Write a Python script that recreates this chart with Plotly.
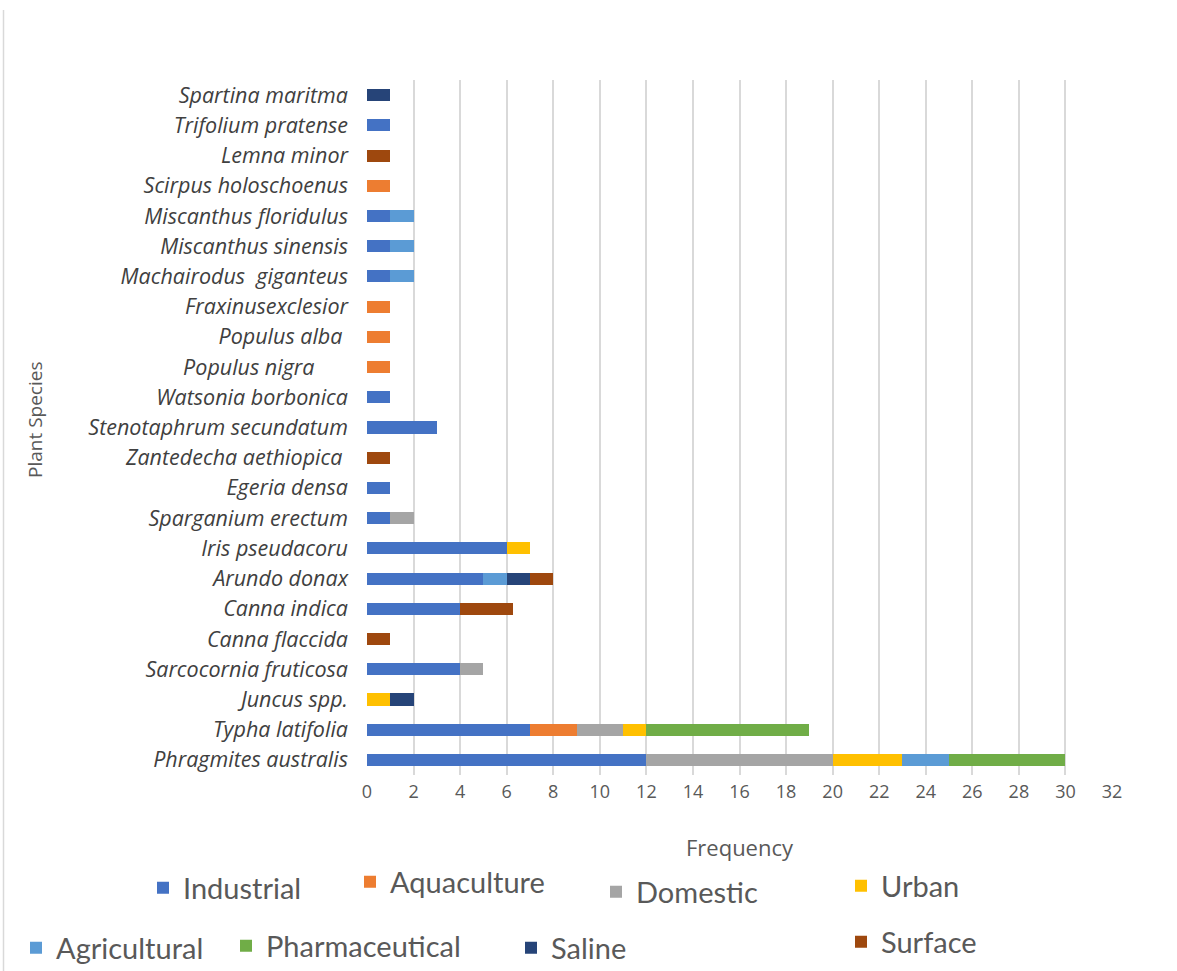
import plotly.graph_objects as go

# Plant species, listed from the bottom row to the top row
species = [
    "Phragmites australis", "Typha latifolia", "Juncus spp.", "Sarcocornia fruticosa",
    "Canna flaccida", "Canna indica", "Arundo donax", "Iris pseudacoru",
    "Sparganium erectum", "Egeria densa", "Zantedecha aethiopica\u00a0", "Stenotaphrum secundatum",
    "Watsonia borbonica", "Populus nigra\u00a0\u00a0\u00a0\u00a0\u00a0\u00a0", "Populus alba\u00a0", "Fraxinusexclesior",
    "Machairodus\u00a0\u00a0giganteus", "Miscanthus sinensis", "Miscanthus floridulus", "Scirpus holoschoenus",
    "Lemna minor", "Trifolium pratense", "Spartina maritma",
]

# Frequency of use per wastewater type (same order as species)
industrial     = [12, 7, 0, 4, 0, 4, 5, 6, 1, 1, 0, 3, 1, 0, 0, 0, 1, 1, 1, 0, 0, 1, 0]
aquaculture    = [0, 2, 0, 0, 0, 0, 0, 0, 0, 0, 0, 0, 0, 1, 1, 1, 0, 0, 0, 1, 0, 0, 0]
domestic       = [8, 2, 0, 1, 0, 0, 0, 0, 1, 0, 0, 0, 0, 0, 0, 0, 0, 0, 0, 0, 0, 0, 0]
urban          = [3, 1, 1, 0, 0, 0, 0, 1, 0, 0, 0, 0, 0, 0, 0, 0, 0, 0, 0, 0, 0, 0, 0]
agricultural   = [2, 0, 0, 0, 0, 0, 1, 0, 0, 0, 0, 0, 0, 0, 0, 0, 1, 1, 1, 0, 0, 0, 0]
pharmaceutical = [5, 7, 0, 0, 0, 0, 0, 0, 0, 0, 0, 0, 0, 0, 0, 0, 0, 0, 0, 0, 0, 0, 0]
saline         = [0, 0, 1, 0, 0, 0, 1, 0, 0, 0, 0, 0, 0, 0, 0, 0, 0, 0, 0, 0, 0, 0, 1]
surface        = [0, 0, 0, 0, 1, 2.25, 1, 0, 0, 0, 1, 0, 0, 0, 0, 0, 0, 0, 0, 0, 1, 0, 0]

x_ticks = list(range(0, 33, 2))

series = [
    ("Industrial", industrial, "#4472C4"),
    ("Aquaculture", aquaculture, "#ED7D31"),
    ("Domestic", domestic, "#A5A5A5"),
    ("Urban", urban, "#FFC000"),
    ("Agricultural", agricultural, "#5B9BD5"),
    ("Pharmaceutical", pharmaceutical, "#70AD47"),
    ("Saline", saline, "#264478"),
    ("Surface", surface, "#9E480E"),
]

W, H = 1177, 971
L, R, T, B = 367, 65, 80, 196
PW, PH = W - L - R, H - T - B


def px_x(p):
    return (p - L) / PW


def px_y(p):
    return (H - B - p) / PH


# Legend entries are scattered in two loose rows below the axis
legend_pos = [
    (157, 888), (364, 882), (610, 892), (855, 886),
    (30, 948), (240, 946), (525, 948), (855, 942),
]

fig = go.Figure()
layout_legends = {}
for i, (name, vals, color) in enumerate(series):
    key = "legend" if i == 0 else f"legend{i + 1}"
    fig.add_trace(go.Bar(
        y=species, x=vals, name=name, orientation="h",
        marker=dict(color=color, line=dict(width=0)),
        legend=key,
    ))
    sx, sy = legend_pos[i]
    layout_legends[key] = dict(
        x=(sx - 14) / W, y=1 - sy / H, xanchor="left", yanchor="middle",
        xref="container", yref="container",
        font=dict(family="Lato", size=29, color="#595959"),
        bgcolor="rgba(0,0,0,0)", itemwidth=30, tracegroupgap=0,
        borderwidth=0,
    )

fig.update_layout(
    width=W, height=H,
    margin=dict(l=L, r=R, t=T, b=B, autoexpand=False),
    barmode="stack",
    bargap=0.6,
    plot_bgcolor="white",
    paper_bgcolor="white",
    font=dict(family="Open Sans", color="#595959"),
    showlegend=True,
    **layout_legends,
)

fig.update_xaxes(
    range=[0, 32],
    tickvals=x_ticks,
    ticktext=[str(v) for v in x_ticks],
    showgrid=True, gridcolor="#D9D9D9", gridwidth=1.5,
    zeroline=False, showline=False,
    ticklabelstandoff=4,
    tickfont=dict(family="Open Sans", size=18, color="#595959"),
    title=dict(text="Frequency", font=dict(family="Open Sans", size=22, color="#595959"), standoff=38),
)

fig.update_yaxes(
    type="category",
    categoryorder="array", categoryarray=species,
    showgrid=False, zeroline=False, showline=False,
    ticks="", ticklabelstandoff=18,
    tickfont=dict(family="Open Sans", size=21.5, color="#404040", style="italic"),
)

# Vertical axis title
fig.add_annotation(
    text="Plant Species", textangle=-90,
    xref="paper", yref="paper", x=px_x(35), y=px_y(420),
    xanchor="center", yanchor="middle", showarrow=False,
    font=dict(family="Open Sans", size=19, color="#595959"),
)

# Thin frame line on the left edge of the chart area
fig.add_shape(
    type="line", xref="paper", yref="paper",
    x0=px_x(3.5), x1=px_x(3.5), y0=px_y(10), y1=px_y(H),
    line=dict(color="#D9D9D9", width=1.5),
)

fig.write_html("out.html")
